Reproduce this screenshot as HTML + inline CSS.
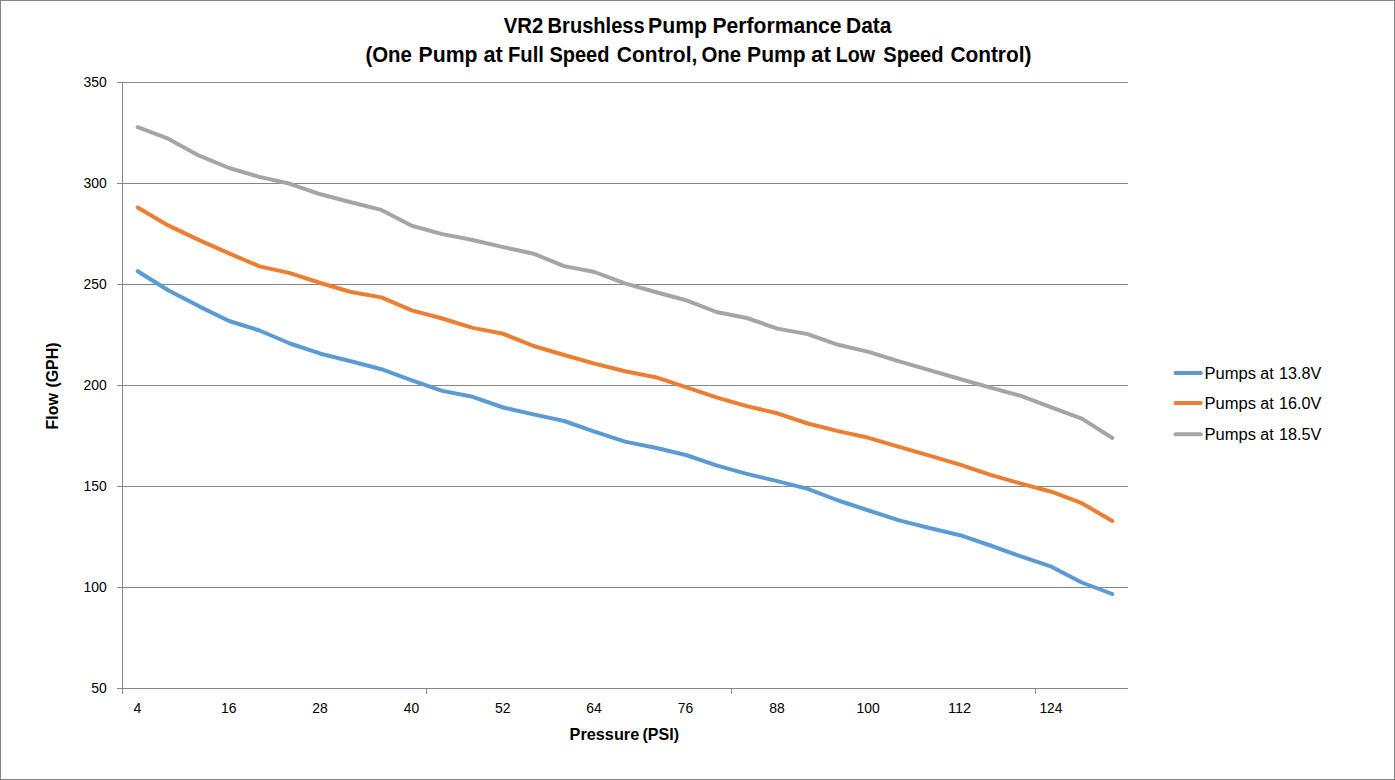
<!DOCTYPE html>
<html lang="en">
<head>
<meta charset="utf-8">
<title>VR2 Brushless Pump Performance Data</title>
<style>
html,body{margin:0;padding:0;background:#fff;}
body{width:1395px;height:780px;overflow:hidden;}
svg{display:block;}
text{font-family:"Liberation Sans",sans-serif;fill:#000;}
.b{font-weight:bold;}
.ax{stroke:#868686;stroke-width:1;shape-rendering:crispEdges;fill:none;}
.s{fill:none;stroke-width:4;stroke-linecap:round;stroke-linejoin:round;}
</style>
</head>
<body>
<svg width="1395" height="780" viewBox="0 0 1395 780">
<rect x="0" y="0" width="1395" height="780" fill="#fff"/>
<rect class="ax" x="0.5" y="0.5" width="1394" height="779"/>

<line class="ax" x1="117" y1="82.5" x2="1128" y2="82.5"/>
<line class="ax" x1="117" y1="183.5" x2="1128" y2="183.5"/>
<line class="ax" x1="117" y1="284.5" x2="1128" y2="284.5"/>
<line class="ax" x1="117" y1="385.5" x2="1128" y2="385.5"/>
<line class="ax" x1="117" y1="486.5" x2="1128" y2="486.5"/>
<line class="ax" x1="117" y1="587.5" x2="1128" y2="587.5"/>
<line class="ax" x1="117" y1="688.5" x2="1128" y2="688.5"/>
<line class="ax" x1="122.5" y1="82" x2="122.5" y2="694"/>
<line class="ax" x1="426.5" y1="688" x2="426.5" y2="694"/>
<line class="ax" x1="731.5" y1="688" x2="731.5" y2="694"/>
<line class="ax" x1="1035.5" y1="688" x2="1035.5" y2="694"/>
<polyline class="s" stroke="#5B9BD5" points="137.7,271.2 168.2,290.2 198.6,306.1 229.1,321.0 259.5,330.5 290.0,343.5 320.5,353.7 350.9,361.3 381.4,369.2 411.8,380.3 442.3,390.9 472.7,396.8 503.2,407.5 533.6,414.4 564.1,421.0 594.5,431.7 625.0,441.6 655.5,447.8 685.9,455.0 716.4,465.3 746.8,473.9 777.3,481.1 807.7,488.9 838.2,500.5 868.6,510.5 899.1,520.4 929.5,528.0 960.0,535.2 990.5,545.5 1020.9,556.4 1051.4,566.7 1081.8,582.5 1112.3,594.0"/>
<polyline class="s" stroke="#ED7D31" points="137.7,207.6 168.2,225.4 198.6,239.9 229.1,253.4 259.5,266.4 290.0,273.1 320.5,283.0 350.9,292.0 381.4,297.4 411.8,310.4 442.3,318.5 472.7,327.9 503.2,333.8 533.6,346.0 564.1,355.0 594.5,363.6 625.0,371.2 655.5,377.2 685.9,387.2 716.4,397.3 746.8,406.1 777.3,413.3 807.7,423.5 838.2,431.1 868.6,437.8 899.1,446.8 929.5,455.6 960.0,464.7 990.5,474.9 1020.9,483.6 1051.4,491.7 1081.8,503.2 1112.3,520.9"/>
<polyline class="s" stroke="#A5A5A5" points="137.7,127.2 168.2,138.7 198.6,155.4 229.1,168.0 259.5,176.9 290.0,183.8 320.5,194.3 350.9,202.2 381.4,209.9 411.8,225.8 442.3,234.1 472.7,240.0 503.2,247.1 533.6,253.7 564.1,266.1 594.5,272.0 625.0,283.4 655.5,292.0 685.9,300.2 716.4,312.0 746.8,318.0 777.3,328.6 807.7,334.1 838.2,344.8 868.6,351.9 899.1,361.4 929.5,370.2 960.0,379.0 990.5,387.7 1020.9,395.9 1051.4,407.4 1081.8,418.6 1112.3,438.0"/>
<text x="106.7" y="86.6" font-size="14.8" text-anchor="end" textLength="23.2" lengthAdjust="spacingAndGlyphs">350</text>
<text x="106.7" y="187.6" font-size="14.8" text-anchor="end" textLength="23.2" lengthAdjust="spacingAndGlyphs">300</text>
<text x="106.7" y="288.6" font-size="14.8" text-anchor="end" textLength="23.2" lengthAdjust="spacingAndGlyphs">250</text>
<text x="106.7" y="389.6" font-size="14.8" text-anchor="end" textLength="23.2" lengthAdjust="spacingAndGlyphs">200</text>
<text x="106.7" y="490.6" font-size="14.8" text-anchor="end" textLength="23.2" lengthAdjust="spacingAndGlyphs">150</text>
<text x="106.7" y="591.6" font-size="14.8" text-anchor="end" textLength="23.2" lengthAdjust="spacingAndGlyphs">100</text>
<text x="106.7" y="692.6" font-size="14.8" text-anchor="end" textLength="15.5" lengthAdjust="spacingAndGlyphs">50</text>
<text x="137.3" y="713.1" font-size="14.8" text-anchor="middle" textLength="7.8" lengthAdjust="spacingAndGlyphs">4</text>
<text x="228.7" y="713.1" font-size="14.8" text-anchor="middle" textLength="15.5" lengthAdjust="spacingAndGlyphs">16</text>
<text x="320.1" y="713.1" font-size="14.8" text-anchor="middle" textLength="15.5" lengthAdjust="spacingAndGlyphs">28</text>
<text x="411.4" y="713.1" font-size="14.8" text-anchor="middle" textLength="15.5" lengthAdjust="spacingAndGlyphs">40</text>
<text x="502.8" y="713.1" font-size="14.8" text-anchor="middle" textLength="15.5" lengthAdjust="spacingAndGlyphs">52</text>
<text x="594.1" y="713.1" font-size="14.8" text-anchor="middle" textLength="15.5" lengthAdjust="spacingAndGlyphs">64</text>
<text x="685.5" y="713.1" font-size="14.8" text-anchor="middle" textLength="15.5" lengthAdjust="spacingAndGlyphs">76</text>
<text x="776.9" y="713.1" font-size="14.8" text-anchor="middle" textLength="15.5" lengthAdjust="spacingAndGlyphs">88</text>
<text x="868.2" y="713.1" font-size="14.8" text-anchor="middle" textLength="23.2" lengthAdjust="spacingAndGlyphs">100</text>
<text x="959.6" y="713.1" font-size="14.8" text-anchor="middle" textLength="23.2" lengthAdjust="spacingAndGlyphs">112</text>
<text x="1051.0" y="713.1" font-size="14.8" text-anchor="middle" textLength="23.2" lengthAdjust="spacingAndGlyphs">124</text>
<text class="b" y="32.5" font-size="21.2"><tspan x="503.64" textLength="39.58" lengthAdjust="spacingAndGlyphs">VR2</tspan> <tspan x="547.62" textLength="97.00" lengthAdjust="spacingAndGlyphs">Brushless</tspan> <tspan x="648.05" textLength="58.95" lengthAdjust="spacingAndGlyphs">Pump</tspan> <tspan x="712.56" textLength="129.00" lengthAdjust="spacingAndGlyphs">Performance</tspan> <tspan x="846.03" textLength="45.52" lengthAdjust="spacingAndGlyphs">Data</tspan></text>
<text class="b" y="61.5" font-size="21.2"><tspan x="365.40" textLength="46.45" lengthAdjust="spacingAndGlyphs">(One</tspan> <tspan x="418.55" textLength="58.95" lengthAdjust="spacingAndGlyphs">Pump</tspan> <tspan x="483.44" textLength="19.25" lengthAdjust="spacingAndGlyphs">at</tspan> <tspan x="508.04" textLength="35.91" lengthAdjust="spacingAndGlyphs">Full</tspan> <tspan x="549.38" textLength="60.00" lengthAdjust="spacingAndGlyphs">Speed</tspan> <tspan x="616.87" textLength="80.45" lengthAdjust="spacingAndGlyphs">Control,</tspan> <tspan x="701.48" textLength="39.66" lengthAdjust="spacingAndGlyphs">One</tspan> <tspan x="747.11" textLength="58.51" lengthAdjust="spacingAndGlyphs">Pump</tspan> <tspan x="811.04" textLength="19.85" lengthAdjust="spacingAndGlyphs">at</tspan> <tspan x="835.77" textLength="39.40" lengthAdjust="spacingAndGlyphs">Low</tspan> <tspan x="883.26" textLength="60.24" lengthAdjust="spacingAndGlyphs">Speed</tspan> <tspan x="950.38" textLength="81.06" lengthAdjust="spacingAndGlyphs">Control)</tspan></text>
<text class="b" y="739.5" font-size="16.3"><tspan x="569.56" textLength="69.67" lengthAdjust="spacingAndGlyphs">Pressure</tspan> <tspan x="642.54" textLength="36.54" lengthAdjust="spacingAndGlyphs">(PSI)</tspan></text>
<text class="b" transform="translate(58.3,428.3) rotate(-90)" y="0" font-size="16.3"><tspan x="-1.13" textLength="36.31" lengthAdjust="spacingAndGlyphs">Flow</tspan> <tspan x="40.73" textLength="45.14" lengthAdjust="spacingAndGlyphs">(GPH)</tspan></text>
<line class="s" stroke="#5B9BD5" x1="1175.5" y1="373.0" x2="1200.8" y2="373.0"/>
<text y="378.5" font-size="15.8"><tspan x="1204.50" textLength="51.56" lengthAdjust="spacingAndGlyphs">Pumps</tspan> <tspan x="1260.36" textLength="13.45" lengthAdjust="spacingAndGlyphs">at</tspan> <tspan x="1279.06" textLength="42.37" lengthAdjust="spacingAndGlyphs">13.8V</tspan></text>
<line class="s" stroke="#ED7D31" x1="1175.5" y1="403.0" x2="1200.8" y2="403.0"/>
<text y="408.8" font-size="15.8"><tspan x="1204.50" textLength="51.56" lengthAdjust="spacingAndGlyphs">Pumps</tspan> <tspan x="1260.36" textLength="13.45" lengthAdjust="spacingAndGlyphs">at</tspan> <tspan x="1279.06" textLength="42.37" lengthAdjust="spacingAndGlyphs">16.0V</tspan></text>
<line class="s" stroke="#A5A5A5" x1="1175.5" y1="434.3" x2="1200.8" y2="434.3"/>
<text y="439.5" font-size="15.8"><tspan x="1204.50" textLength="51.56" lengthAdjust="spacingAndGlyphs">Pumps</tspan> <tspan x="1260.36" textLength="13.45" lengthAdjust="spacingAndGlyphs">at</tspan> <tspan x="1279.06" textLength="42.37" lengthAdjust="spacingAndGlyphs">18.5V</tspan></text>
</svg>
</body>
</html>
